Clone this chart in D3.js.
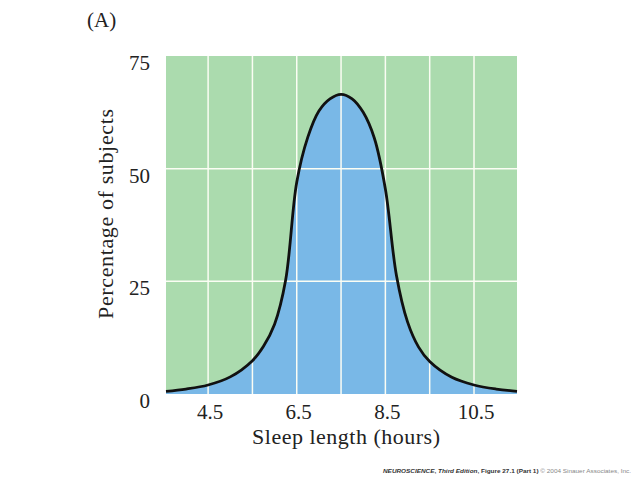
<!DOCTYPE html>
<html>
<head>
<meta charset="utf-8">
<script src="https://cdn.jsdelivr.net/npm/d3@7"></script>
<style>
  body { margin: 0; background: #fff; }
  svg { display: block; }
</style>
</head>
<body>
<div id="chart"></div>
<script>
// values
var hours = [3.55, 4.0, 4.5, 5.0, 5.5, 5.75, 6.0, 6.25, 6.5, 6.75, 7.0, 7.25, 7.5, 7.75, 8.0, 8.25, 8.5, 8.75, 9.0, 9.25, 9.5, 10.0, 10.5, 11.0, 11.47];
var percent = [0.6, 1.1, 2.0, 3.8, 7.4, 10.6, 15.5, 25.3, 47, 57, 62.8, 65.5, 66.5, 65.5, 62.5, 56.8, 45.5, 26.3, 16, 10.4, 7.2, 3.7, 2.0, 1.1, 0.6];
var xTicks = [4.5, 6.5, 8.5, 10.5];
var xGrid = [4.5, 5.5, 6.5, 7.5, 8.5, 9.5, 10.5];
var yTicks = [0, 25, 50, 75];
var yGrid = [25, 50];

var width = 640, height = 480;
var plotLeft = 166, plotRight = 517, plotTop = 56, plotBottom = 394;
var serif = "'Liberation Serif', 'DejaVu Serif', serif";

var svg = d3.select("#chart").append("svg")
    .attr("width", width)
    .attr("height", height);

var x = d3.scaleLinear().domain([3.55, 11.47]).range([plotLeft, plotRight]);
var y = d3.scaleLinear().domain([0, 75]).range([plotBottom, plotTop]);

var points = hours.map(function (h, i) { return { h: h, p: percent[i] }; });

// green background
svg.append("rect")
    .attr("x", plotLeft)
    .attr("y", plotTop)
    .attr("width", plotRight - plotLeft)
    .attr("height", plotBottom - plotTop)
    .attr("fill", "#abdbae");

// blue area under the curve
var area = d3.area()
    .x(function (d) { return x(d.h); })
    .y0(y(0))
    .y1(function (d) { return y(d.p); })
    .curve(d3.curveCatmullRom.alpha(0.5));

svg.append("path")
    .datum(points)
    .attr("d", area)
    .attr("fill", "#79b8e7");

// grid lines
svg.selectAll(".vgrid")
    .data(xGrid)
    .enter().append("line")
    .attr("class", "vgrid")
    .attr("x1", function (d) { return x(d); })
    .attr("x2", function (d) { return x(d); })
    .attr("y1", plotTop)
    .attr("y2", plotBottom)
    .attr("stroke", "#fbfdf4")
    .attr("stroke-width", 1.5);

svg.selectAll(".hgrid")
    .data(yGrid)
    .enter().append("line")
    .attr("class", "hgrid")
    .attr("x1", plotLeft)
    .attr("x2", plotRight)
    .attr("y1", function (d) { return y(d); })
    .attr("y2", function (d) { return y(d); })
    .attr("stroke", "#fbfdf4")
    .attr("stroke-width", 1.5);

// the curve
var line = d3.line()
    .x(function (d) { return x(d.h); })
    .y(function (d) { return y(d.p); })
    .curve(d3.curveCatmullRom.alpha(0.5));

svg.append("path")
    .datum(points)
    .attr("d", line)
    .attr("fill", "none")
    .attr("stroke", "#111")
    .attr("stroke-width", 2.8);

// tick labels
svg.selectAll(".xlab")
    .data(xTicks)
    .enter().append("text")
    .attr("class", "xlab")
    .attr("x", function (d) { return x(d) + 2; })
    .attr("y", 419)
    .attr("text-anchor", "middle")
    .attr("font-family", serif)
    .attr("font-size", "21px")
    .attr("fill", "#222")
    .text(function (d) { return d.toFixed(1); });

svg.selectAll(".ylab")
    .data(yTicks)
    .enter().append("text")
    .attr("class", "ylab")
    .attr("x", 150)
    .attr("y", function (d) { return y(d) + 14; })
    .attr("text-anchor", "end")
    .attr("font-family", serif)
    .attr("font-size", "21px")
    .attr("fill", "#222")
    .text(function (d) { return d; });

// axis titles
svg.append("text")
    .attr("x", 346)
    .attr("y", 444)
    .attr("text-anchor", "middle")
    .attr("font-family", serif)
    .attr("font-size", "22px")
    .attr("textLength", 188)
    .attr("fill", "#222")
    .text("Sleep length (hours)");

svg.append("text")
    .attr("transform", "translate(113,214) rotate(-90)")
    .attr("text-anchor", "middle")
    .attr("font-family", serif)
    .attr("font-size", "22px")
    .attr("textLength", 210)
    .attr("fill", "#222")
    .text("Percentage of subjects");

svg.append("text")
    .attr("x", 87)
    .attr("y", 27)
    .attr("font-family", serif)
    .attr("font-size", "21px")
    .attr("fill", "#222")
    .text("(A)");

// credit line
var credit = svg.append("text")
    .attr("x", 383)
    .attr("y", 473)
    .attr("font-family", "'Liberation Sans', Arial, sans-serif")
    .attr("font-size", "6px")
    .attr("textLength", 248)
    .attr("lengthAdjust", "spacingAndGlyphs");
credit.append("tspan")
    .attr("font-weight", "bold")
    .attr("font-style", "italic")
    .attr("fill", "#333")
    .text("NEUROSCIENCE");
credit.append("tspan")
    .attr("font-weight", "bold")
    .attr("fill", "#333")
    .text(", ");
credit.append("tspan")
    .attr("font-weight", "bold")
    .attr("font-style", "italic")
    .attr("fill", "#333")
    .text("Third Edition");
credit.append("tspan")
    .attr("font-weight", "bold")
    .attr("fill", "#333")
    .text(", Figure 27.1 (Part 1)");
credit.append("tspan")
    .attr("fill", "#888")
    .text("  \u00a9 2004 Sinauer Associates, Inc.");
</script>
</body>
</html>
